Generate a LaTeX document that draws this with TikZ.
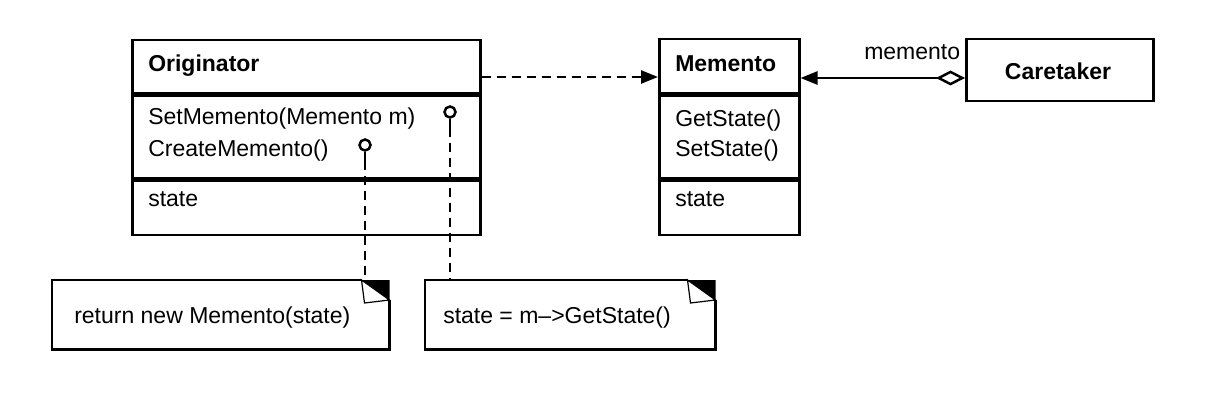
\documentclass[tikz,border=0pt]{standalone}
\usepackage{fontspec}
\setmainfont{Liberation Sans}
\usetikzlibrary{arrows.meta}
\begin{document}
\begin{tikzpicture}[x=1pt,y=1pt,line width=2.5pt,
  box/.style={draw,line width=2.5pt,inner sep=0pt,anchor=north west},
  txt/.style={inner sep=0pt,anchor=base west,font=\fontsize{23}{28}\selectfont},
  ttl/.style={txt,font=\fontsize{23}{28}\selectfont\bfseries},
  dashline/.style={dash pattern=on 9pt off 6pt,line width=2.5pt},
  pin/.style={circle,draw,line width=2.5pt,minimum size=11pt,inner sep=0pt,fill=white},
  notebox/.style={inner sep=0pt,anchor=north west,minimum height=67pt}
]
\useasboundingbox (0,0) rectangle (1210,-406);

% Originator
\node[box,minimum width=348pt,minimum height=53pt] (origHead) at (131,-39) {};
\node[box,minimum width=348pt,minimum height=83pt] (origOps) at (origHead.south west) {};
\node[box,minimum width=348pt,minimum height=54pt] (origAttr) at (origOps.south west) {};
\node[ttl] (origName) at (147,-72) {Originator};
\node[txt] (origM1) at (147,-125) {SetMemento(Memento m)};
\node[txt] (origM2) at (147,-157) {CreateMemento()};
\node[txt] (origA1) at (147,-207) {state};

% Memento
\node[box,minimum width=140pt,minimum height=54pt] (memHead) at (658,-38) {};
\node[box,minimum width=140pt,minimum height=83pt] (memOps) at (memHead.south west) {};
\node[box,minimum width=140pt,minimum height=54pt] (memAttr) at (memOps.south west) {};
\node[ttl] (memName) at (674,-72) {Memento};
\node[txt] (memM1) at (674,-127) {GetState()};
\node[txt] (memM2) at (674,-157) {SetState()};
\node[txt] (memA1) at (674,-207) {state};

% Caretaker
\node[box,minimum width=187pt,minimum height=62pt] (care) at (965,-38) {};
\node[ttl,anchor=base] (careName) at (1058,-80) {Caretaker};

% connectors between classes
\draw[dashline,-{Triangle[length=17pt,width=13pt]}]
  ([yshift=-38pt]origHead.north east) -- ([yshift=-39pt]memHead.north west);
\draw[{Triangle[length=17pt,width=13pt]}-{Diamond[open,length=29pt,width=15pt]}]
  ([yshift=-40pt]memHead.north east) -- ([yshift=-40pt]care.north west);
\node[txt] (memLbl) at (863,-60) {memento};

% notes
\node[notebox,minimum width=335pt] (note1) at (52,-280) {};
\node[notebox,minimum width=288pt] (note2) at (425,-280) {};
\foreach \n in {note1,note2} {
  \fill (\n.north east) -- ([xshift=-28pt]\n.north east) -- ([yshift=-20pt]\n.north east) -- cycle;
  \draw[line width=2.5pt] ([yshift=-20pt]\n.north east) -- (\n.south east) -- (\n.south west)
     -- (\n.north west) -- ([xshift=-28pt]\n.north east);
  \draw[line width=1.2pt,fill=white] ([xshift=-28pt]\n.north east) -- ([xshift=-25pt,yshift=-23pt]\n.north east)
     -- ([yshift=-20pt]\n.north east) -- cycle;
}
\node[txt] (note1Txt) at (73,-323) {return new Memento(state)};
\node[txt] (note2Txt) at (442,-323) {state = m–>GetState()};

% pins
\node[pin] (pinSet) at (450,-112) {};
\node[pin] (pinCreate) at (365,-145) {};
\coordinate (stemSet) at ([yshift=-9pt]pinSet.south);
\coordinate (stemCreate) at ([yshift=-9pt]pinCreate.south);
\draw (pinSet.south) -- (stemSet);
\draw (pinCreate.south) -- (stemCreate);
\draw[dashline] (stemSet) -- (stemSet |- note2.north);
\draw[dashline] (stemCreate) -- (stemCreate |- note1.north);
\end{tikzpicture}
\end{document}
